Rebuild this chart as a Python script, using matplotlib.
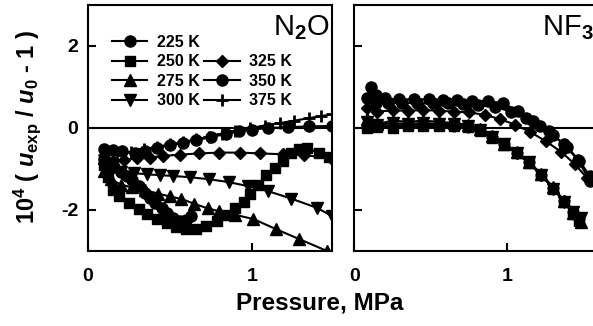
import matplotlib.pyplot as plt
from matplotlib.lines import Line2D

plt.rcParams['font.family'] = 'Liberation Sans'
plt.rcParams['font.weight'] = 'bold'
plt.rcParams['axes.unicode_minus'] = False
plt.rcParams['mathtext.fontset'] = 'custom'
plt.rcParams['mathtext.rm'] = 'Liberation Sans'
plt.rcParams['mathtext.bf'] = 'Liberation Sans:bold'
plt.rcParams['mathtext.it'] = 'Liberation Sans:bold:italic'

temps = ['225 K', '250 K', '275 K', '300 K', '325 K', '350 K', '375 K']
markers = ['o', 's', '^', 'v', 'D', 'o', '+']
msizes = [8, 7.5, 8.5, 8.5, 6.5, 8, 8]

# N2O  (pressure MPa, 10^4 (u_exp/u_0 - 1))
p225_n2o = [0.10, 0.13, 0.16, 0.20, 0.24, 0.27, 0.31, 0.35, 0.38, 0.41, 0.45, 0.48, 0.52, 0.56, 0.60, 0.63]
u225_n2o = [-0.75, -0.85, -0.95, -1.08, -1.18, -1.27, -1.42, -1.58, -1.70, -1.83, -1.96, -2.07, -2.20, -2.28, -2.25, -2.15]
p250_n2o = [0.10, 0.12, 0.15, 0.19, 0.25, 0.31, 0.36, 0.42, 0.48, 0.54, 0.60, 0.66, 0.72, 0.79, 0.85, 0.90,
            0.95, 0.99, 1.04, 1.09, 1.14, 1.19, 1.24, 1.29, 1.34, 1.41, 1.47]
u250_n2o = [-0.90, -1.20, -1.50, -1.66, -1.83, -1.98, -2.10, -2.22, -2.32, -2.42, -2.46, -2.46, -2.40, -2.28,
            -2.12, -1.95, -1.80, -1.62, -1.38, -1.15, -0.98, -0.80, -0.62, -0.52, -0.48, -0.62, -0.70]
p275_n2o = [0.10, 0.14, 0.20, 0.27, 0.35, 0.43, 0.50, 0.57, 0.65, 0.73, 0.80, 0.90, 1.01, 1.15, 1.29, 1.46]
u275_n2o = [-1.05, -1.25, -1.38, -1.45, -1.52, -1.60, -1.67, -1.73, -1.85, -1.96, -2.03, -2.12, -2.22, -2.47, -2.71, -3.00]
p300_n2o = [0.10, 0.14, 0.20, 0.28, 0.36, 0.44, 0.52, 0.62, 0.74, 0.86, 0.98, 1.10, 1.24, 1.40, 1.49]
u300_n2o = [-1.00, -1.05, -1.08, -1.10, -1.13, -1.15, -1.17, -1.20, -1.25, -1.32, -1.42, -1.54, -1.72, -1.95, -2.15]
p325_n2o = [0.10, 0.15, 0.22, 0.30, 0.38, 0.46, 0.56, 0.68, 0.80, 0.93, 1.05, 1.19, 1.32, 1.49]
u325_n2o = [-0.85, -0.80, -0.77, -0.74, -0.72, -0.68, -0.65, -0.62, -0.60, -0.60, -0.62, -0.64, -0.66, -0.75]
p350_n2o = [0.10, 0.15, 0.21, 0.29, 0.35, 0.42, 0.50, 0.58, 0.66, 0.75, 0.84, 0.92, 1.00, 1.10, 1.22, 1.35, 1.49]
u350_n2o = [-0.50, -0.53, -0.57, -0.60, -0.55, -0.49, -0.42, -0.36, -0.30, -0.22, -0.15, -0.08, -0.04, 0.00, 0.02, 0.04, 0.05]
p375_n2o = [0.10, 0.18, 0.26, 0.34, 0.42, 0.50, 0.58, 0.66, 0.74, 0.82, 0.90, 0.99, 1.08, 1.17, 1.26, 1.35, 1.42, 1.49]
u375_n2o = [-0.65, -0.62, -0.58, -0.52, -0.46, -0.40, -0.34, -0.28, -0.21, -0.14, -0.07, 0.00, 0.06, 0.12, 0.18, 0.24, 0.29, 0.33]

# NF3
p225_nf3 = [0.11, 0.14, 0.20, 0.29, 0.39, 0.49, 0.58, 0.67, 0.77, 0.87, 0.97, 1.07, 1.17, 1.27, 1.37, 1.46, 1.54]
u225_nf3 = [1.00, 0.80, 0.72, 0.70, 0.70, 0.70, 0.68, 0.68, 0.67, 0.65, 0.60, 0.42, 0.18, -0.08, -0.40, -0.78, -1.30]
p250_nf3 = [0.08, 0.15, 0.25, 0.35, 0.45, 0.55, 0.65, 0.74, 0.82, 0.90, 0.98, 1.06, 1.14, 1.22, 1.30, 1.37, 1.43, 1.47]
u250_nf3 = [0.00, 0.02, 0.00, 0.05, 0.05, 0.05, 0.05, 0.02, -0.08, -0.25, -0.42, -0.62, -0.85, -1.15, -1.48, -1.80, -2.10, -2.28]
p275_nf3 = [0.08, 0.15, 0.25, 0.35, 0.45, 0.55, 0.65, 0.74, 0.82, 0.90, 0.98, 1.06, 1.14, 1.22, 1.30, 1.37, 1.43, 1.48]
u275_nf3 = [0.22, 0.10, 0.18, 0.15, 0.18, 0.15, 0.12, 0.08, -0.02, -0.20, -0.38, -0.58, -0.82, -1.12, -1.45, -1.78, -2.08, -2.30]
p300_nf3 = [0.08, 0.15, 0.25, 0.35, 0.45, 0.55, 0.65, 0.74, 0.82, 0.90, 0.98, 1.06, 1.14, 1.22, 1.30, 1.37, 1.43, 1.48]
u300_nf3 = [0.15, 0.08, 0.12, 0.10, 0.12, 0.10, 0.10, 0.05, -0.05, -0.22, -0.40, -0.60, -0.84, -1.15, -1.48, -1.80, -2.05, -2.20]
p325_nf3 = [0.08, 0.15, 0.25, 0.35, 0.45, 0.55, 0.65, 0.75, 0.85, 0.95, 1.05, 1.15, 1.25, 1.35, 1.44, 1.52]
u325_nf3 = [0.48, 0.40, 0.43, 0.42, 0.44, 0.42, 0.40, 0.38, 0.32, 0.22, 0.08, -0.10, -0.32, -0.58, -0.88, -1.22]
p350_nf3 = [0.08, 0.14, 0.22, 0.31, 0.41, 0.51, 0.61, 0.71, 0.81, 0.92, 1.02, 1.12, 1.21, 1.30, 1.39, 1.47, 1.54]
u350_nf3 = [0.72, 0.62, 0.62, 0.62, 0.60, 0.60, 0.60, 0.58, 0.56, 0.52, 0.40, 0.24, 0.05, -0.18, -0.46, -0.80, -1.18]
p375_nf3 = [0.08, 0.15, 0.25, 0.35, 0.45, 0.55, 0.65, 0.74, 0.82, 0.90, 0.98, 1.06, 1.14, 1.22, 1.30, 1.37, 1.43, 1.47]
u375_nf3 = [0.05, 0.05, 0.05, 0.08, 0.08, 0.08, 0.06, 0.02, -0.06, -0.22, -0.40, -0.60, -0.84, -1.14, -1.46, -1.78, -2.06, -2.22]

n2o = [(p225_n2o, u225_n2o), (p250_n2o, u250_n2o), (p275_n2o, u275_n2o), (p300_n2o, u300_n2o),
       (p325_n2o, u325_n2o), (p350_n2o, u350_n2o), (p375_n2o, u375_n2o)]
nf3 = [(p225_nf3, u225_nf3), (p250_nf3, u250_nf3), (p275_nf3, u275_nf3), (p300_nf3, u300_nf3),
       (p325_nf3, u325_nf3), (p350_nf3, u350_nf3), (p375_nf3, u375_nf3)]

W, H = 593, 326
fig = plt.figure(figsize=(W / 100, H / 100), dpi=100)
ax1 = fig.add_axes([88 / W, 75 / H, 244 / W, 246 / H])
ax2 = fig.add_axes([354.5 / W, 75 / H, 244 / W, 246 / H])

lines = []
for (p, u), m, ms, t in zip(n2o, markers, msizes, temps):
    mew = 2 if m == '+' else 1
    l, = ax1.plot(p, u, color='black', lw=1.5, marker=m, ms=ms, mew=mew, label=t)
    lines.append(l)
for (p, u), m, ms in zip(nf3, markers, msizes):
    mew = 2 if m == '+' else 1
    ax2.plot(p, u, color='black', lw=1.5, marker=m, ms=ms, mew=mew)

for ax in (ax1, ax2):
    ax.axhline(0, color='black', lw=1.5, zorder=0)
    ax.set_ylim(-3, 3)
    ax.set_xticks([0, 1])
    ax.set_yticks([-2, 0, 2])
    ax.tick_params(direction='in', length=6, width=1.5, labelsize=14)
    ax.tick_params(axis='x', pad=12)
    ax.tick_params(axis='y', pad=7)
    for s in ax.spines.values():
        s.set_linewidth(1.5)
ax1.set_xlim(0, 1.49)
ax2.set_xlim(0, 1.595)
ax2.set_yticklabels([])

ax1.text(0.99, 0.965, 'N$_2$O', transform=ax1.transAxes, ha='right', va='top',
         fontsize=21, fontweight='normal')
ax2.text(0.77, 0.965, 'NF$_3$', transform=ax2.transAxes, ha='left', va='top',
         fontsize=21, fontweight='normal')

blank = Line2D([], [], linestyle='none')
handles = lines[:4] + [blank] + lines[4:]
labels = temps[:4] + [''] + temps[4:]
ax1.legend(handles, labels, ncol=2, frameon=False, fontsize=11.5, loc='upper left',
           bbox_to_anchor=(24 / 244, 1 - 30 / 246), borderpad=0, borderaxespad=0,
           handlelength=2.2, handletextpad=0.6, columnspacing=0.3, labelspacing=0.28)

fig.text(27 / W, 1 - 127 / H, r'10$^\mathbf{4}$ ( $u_\mathbf{exp}$ / $u_\mathbf{0}$ - 1 )',
         rotation=90, ha='center', va='center', fontsize=17)
fig.text(320 / W, 1 - 303 / H, 'Pressure, MPa', ha='center', va='center', fontsize=17.5)

plt.savefig('out.png', dpi=100)
